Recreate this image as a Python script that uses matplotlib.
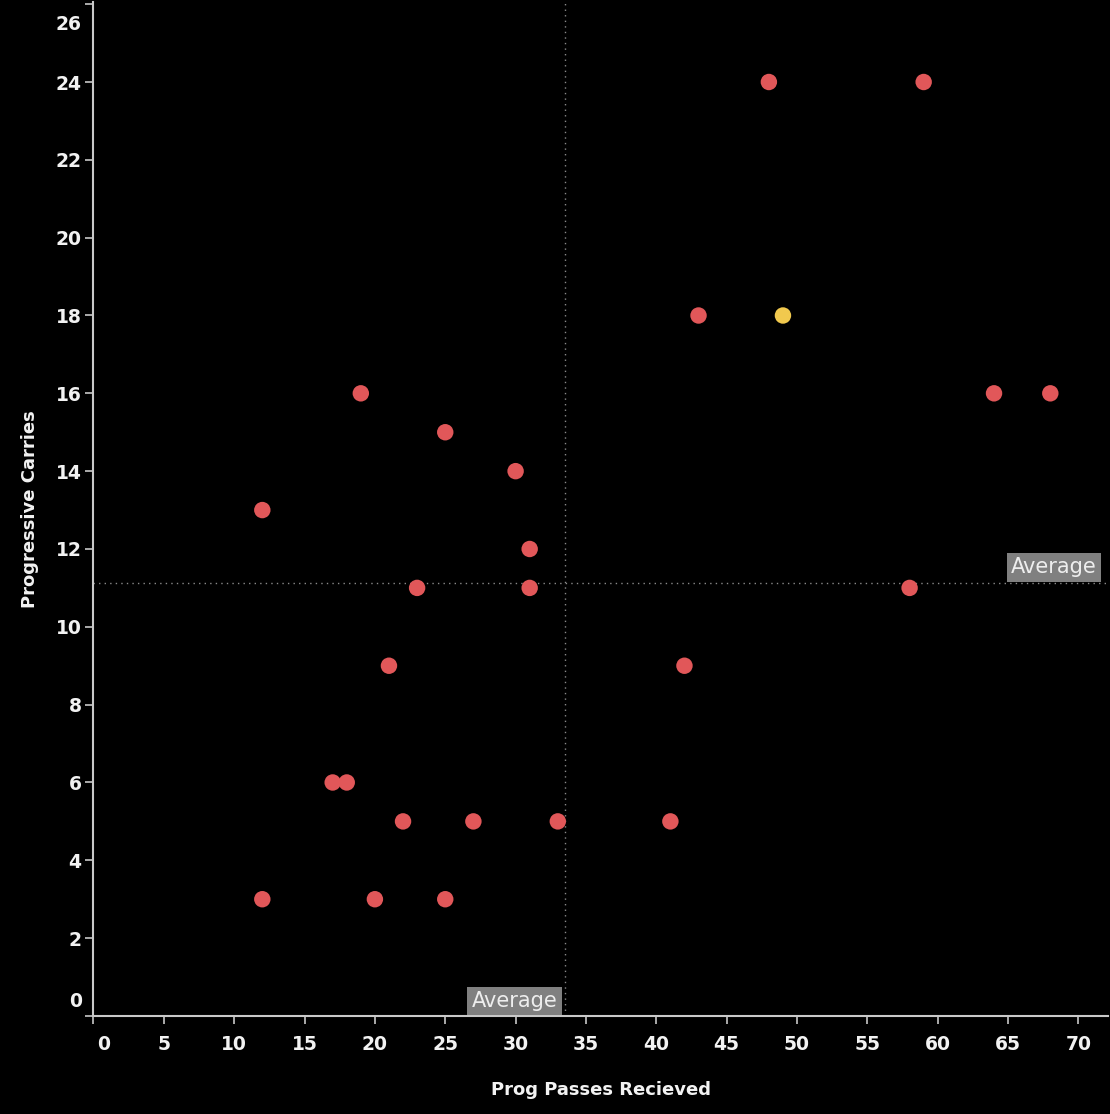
import matplotlib
matplotlib.use("Agg")
import matplotlib.pyplot as plt
from matplotlib.transforms import ScaledTranslation
import numpy as np

prog_passes_received = [48, 59, 43, 49, 19, 64, 68, 25, 30, 12, 31, 23, 31, 58,
                        21, 42, 17, 18, 22, 27, 33, 41, 12, 20, 25]
progressive_carries = [24, 24, 18, 18, 16, 16, 16, 15, 14, 13, 12, 11, 11, 11,
                       9, 9, 6, 6, 5, 5, 5, 5, 3, 3, 3]
highlight = [False, False, False, True] + [False] * 21

x_ticks = list(range(0, 75, 5))
y_ticks = list(range(0, 28, 2))

plt.rcParams['font.family'] = ['DejaVu Sans']

fig = plt.figure(figsize=(11.1, 11.14), dpi=100, facecolor='black')
ax = fig.add_axes([0.0842, 0.088, 0.914, 0.910])
ax.set_facecolor('black')

colors = ['#f1c94e' if h else '#e15759' for h in highlight]
ax.scatter(prog_passes_received, progressive_carries, s=140, c=colors,
           edgecolors='none', zorder=3)

ax.set_xlim(0, 72.1)
ax.set_ylim(0, 26.05)
ax.set_xticks(x_ticks)
ax.set_yticks(y_ticks)

for s in ['top', 'right']:
    ax.spines[s].set_visible(False)
for s in ['left', 'bottom']:
    ax.spines[s].set_color('#c8c8c8')
    ax.spines[s].set_linewidth(1.5)
ax.tick_params(axis='both', colors='#c8c8c8', length=5.5, width=1.2,
               labelcolor='#f2f2f2', labelsize=13.5)
ax.tick_params(axis='x', pad=8.5)
ax.tick_params(axis='y', pad=3)
for lab in ax.get_xticklabels() + ax.get_yticklabels():
    lab.set_fontweight('bold')

# nudge end labels inward like the reference
xl = ax.get_xticklabels()
yl = ax.get_yticklabels()
xl[0].set_transform(xl[0].get_transform() + ScaledTranslation(0.10, 0, fig.dpi_scale_trans))
yl[0].set_transform(yl[0].get_transform() + ScaledTranslation(0, 0.16, fig.dpi_scale_trans))
yl[-1].set_transform(yl[-1].get_transform() + ScaledTranslation(0, -0.18, fig.dpi_scale_trans))

ax.set_xlabel('Prog Passes Recieved', color='#f2f2f2', fontsize=13,
              fontweight='bold', labelpad=19)
ax.set_ylabel('Progressive Carries', color='#f2f2f2', fontsize=13,
              fontweight='bold', labelpad=12)

mx = np.mean(prog_passes_received)
my = np.mean(progressive_carries)
ax.axvline(mx, color='#8a8a8a', linestyle=(0, (1, 3)), linewidth=1, zorder=1)
ax.axhline(my, color='#8a8a8a', linestyle=(0, (1, 3)), linewidth=1, zorder=1)

box = dict(facecolor='#808080', edgecolor='none', pad=3)
ax.text(mx - 0.55, 0.13, 'Average', color='#eeeeee', fontsize=15,
        ha='right', va='bottom', bbox=box, zorder=4)
ax.text(71.3, my + 0.15, 'Average', color='#eeeeee', fontsize=15,
        ha='right', va='bottom', bbox=box, zorder=4)

fig.savefig('out.png', dpi=100, facecolor='black')
